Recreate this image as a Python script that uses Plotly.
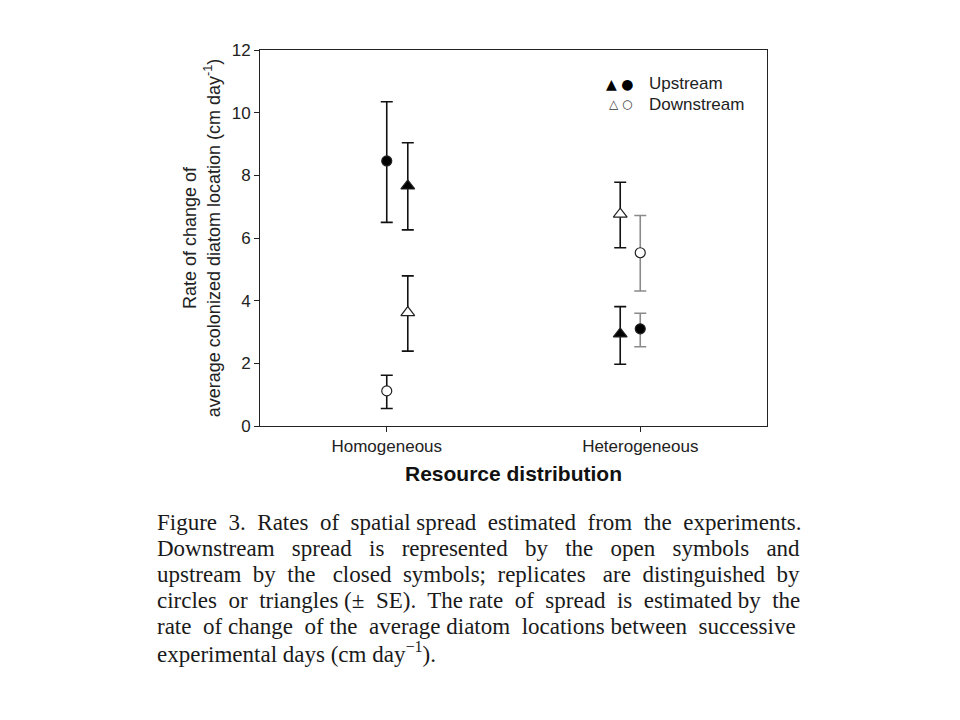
import plotly.graph_objects as go

# ---- data ----
categories = ["Homogeneous", "Heterogeneous"]

up_circle_mean = [8.46, 3.10]
up_circle_upper = [10.35, 3.60]
up_circle_lower = [6.50, 2.53]

up_tri_mean = [7.66, 2.94]
up_tri_upper = [9.04, 3.81]
up_tri_lower = [6.26, 1.97]

down_tri_mean = [3.62, 6.76]
down_tri_upper = [4.79, 7.78]
down_tri_lower = [2.39, 5.69]

down_circle_mean = [1.12, 5.53]
down_circle_upper = [1.62, 6.72]
down_circle_lower = [0.56, 4.31]

y_ticks = [0, 2, 4, 6, 8, 10, 12]

caption_lines = [
    "Figure 3. Rates of spatial spread estimated from the experiments.",
    "Downstream spread is represented by the open symbols and",
    "upstream by the closed symbols; replicates are distinguished by",
    "circles or triangles (\u00b1 SE). The rate of spread is estimated by the",
    "rate of change of the average diatom locations between successive",
    "experimental days (cm day<sup>\u22121</sup>).",
]
# extra spaces per caption line to imitate the justified paragraph
caption_extra_spaces = [8, 16, 10, 9, 5, 0]

# ---- styling ----
circle_offset = [0.0, 0.0]
tri_offset = [0.083, -0.079]
circle_err_color = ["#111111", "#8a8a8a"]
tri_err_color = ["#111111", "#111111"]

series = [
    (up_circle_mean, up_circle_upper, up_circle_lower, circle_offset, "circle", "#000000", circle_err_color, 10),
    (up_tri_mean, up_tri_upper, up_tri_lower, tri_offset, "triangle-up", "#000000", tri_err_color, 12),
    (down_tri_mean, down_tri_upper, down_tri_lower, tri_offset, "triangle-up", "#ffffff", tri_err_color, 12),
    (down_circle_mean, down_circle_upper, down_circle_lower, circle_offset, "circle", "#ffffff", circle_err_color, 10),
]

fig = go.Figure()
for mean, upper, lower, offs, symbol, fill, ecols, size in series:
    for i, cat in enumerate(categories):
        fig.add_trace(go.Scatter(
            x=[i + 1 + offs[i]],
            y=[mean[i]],
            mode="markers",
            marker=dict(symbol=symbol, size=size, color=fill,
                        line=dict(color="#222222", width=1.2)),
            error_y=dict(type="data", symmetric=False,
                         array=[upper[i] - mean[i]],
                         arrayminus=[mean[i] - lower[i]],
                         color=ecols[i], thickness=1.6, width=6),
            showlegend=False,
            hoverinfo="y",
        ))

SANS = "Liberation Sans, Arial, sans-serif"
axis_font = dict(family=SANS, size=17, color="#222222")

# the page body adds an 8px margin; the figure is sized so the page stays 960x720
W, H = 952, 712
L, R, T, B = 252, 193, 42, 294

fig.update_layout(
    width=W, height=H,
    paper_bgcolor="white", plot_bgcolor="white",
    margin=dict(l=L, r=R, t=T, b=B),
    font=axis_font,
    xaxis=dict(
        range=[0.5, 2.5],
        tickmode="array", tickvals=[1, 2], ticktext=categories,
        ticks="outside", ticklen=5, tickwidth=1, tickcolor="#222222",
        showline=True, linecolor="#222222", linewidth=1, mirror=True,
        showgrid=False, zeroline=False,
        tickfont=dict(family=SANS, size=17, color="#222222"),
        title=dict(text="<b>Resource distribution</b>", standoff=10,
                   font=dict(family=SANS, size=21, color="#111111")),
    ),
    yaxis=dict(
        range=[0, 12],
        tickmode="array", tickvals=y_ticks,
        ticks="outside", ticklen=5, tickwidth=1, tickcolor="#222222",
        showline=True, linecolor="#222222", linewidth=1, mirror=True,
        showgrid=False, zeroline=False,
        tickfont=dict(family=SANS, size=17, color="#222222"),
        title=dict(text="Rate of change of<br>average colonized diatom location (cm day<sup>-1</sup>)",
                   standoff=6,
                   font=dict(family=SANS, size=18, color="#222222")),
    ),
)

# legend drawn as annotations (two symbols per entry)
legend_font = dict(family=SANS, size=17, color="#222222")
fig.add_annotation(xref="paper", yref="paper", x=0.740, y=0.910, xanchor="right", yanchor="middle",
                   text="\u25b2 \u25cf", showarrow=False, font=dict(family="DejaVu Sans", size=14, color="#000000"))
fig.add_annotation(xref="paper", yref="paper", x=0.740, y=0.856, xanchor="right", yanchor="middle",
                   text="\u25b3 \u25cb", showarrow=False, font=dict(family="DejaVu Sans", size=12, color="#333333"))
fig.add_annotation(xref="paper", yref="paper", x=0.764, y=0.910, xanchor="left", yanchor="middle",
                   text="Upstream", showarrow=False, font=legend_font)
fig.add_annotation(xref="paper", yref="paper", x=0.764, y=0.856, xanchor="left", yanchor="middle",
                   text="Downstream", showarrow=False, font=legend_font)


def justify(line, extra):
    words = line.split(" ")
    gaps = len(words) - 1
    out = words[0]
    given = 0
    for g in range(gaps):
        target = round(extra * (g + 1) / gaps)
        n = 1 + (target - given)
        given = target
        out += " " * n + words[g + 1]
    return out


# caption (page coordinates converted to paper coordinates)
plot_w = W - L - R
plot_h = H - T - B
cap_left_page = 155
cap_top_page = 522
for k, line in enumerate(caption_lines):
    page_y = cap_top_page + 26 * k
    fig.add_annotation(
        xref="paper", yref="paper",
        x=(cap_left_page - 8 - L) / plot_w,
        y=(T + plot_h - (page_y - 8)) / plot_h,
        xanchor="left", yanchor="middle",
        text=justify(line, caption_extra_spaces[k]), showarrow=False,
        font=dict(family="Liberation Serif, Times New Roman, serif", size=23, color="#1a1a1a"),
    )

fig.write_html("out.html")
